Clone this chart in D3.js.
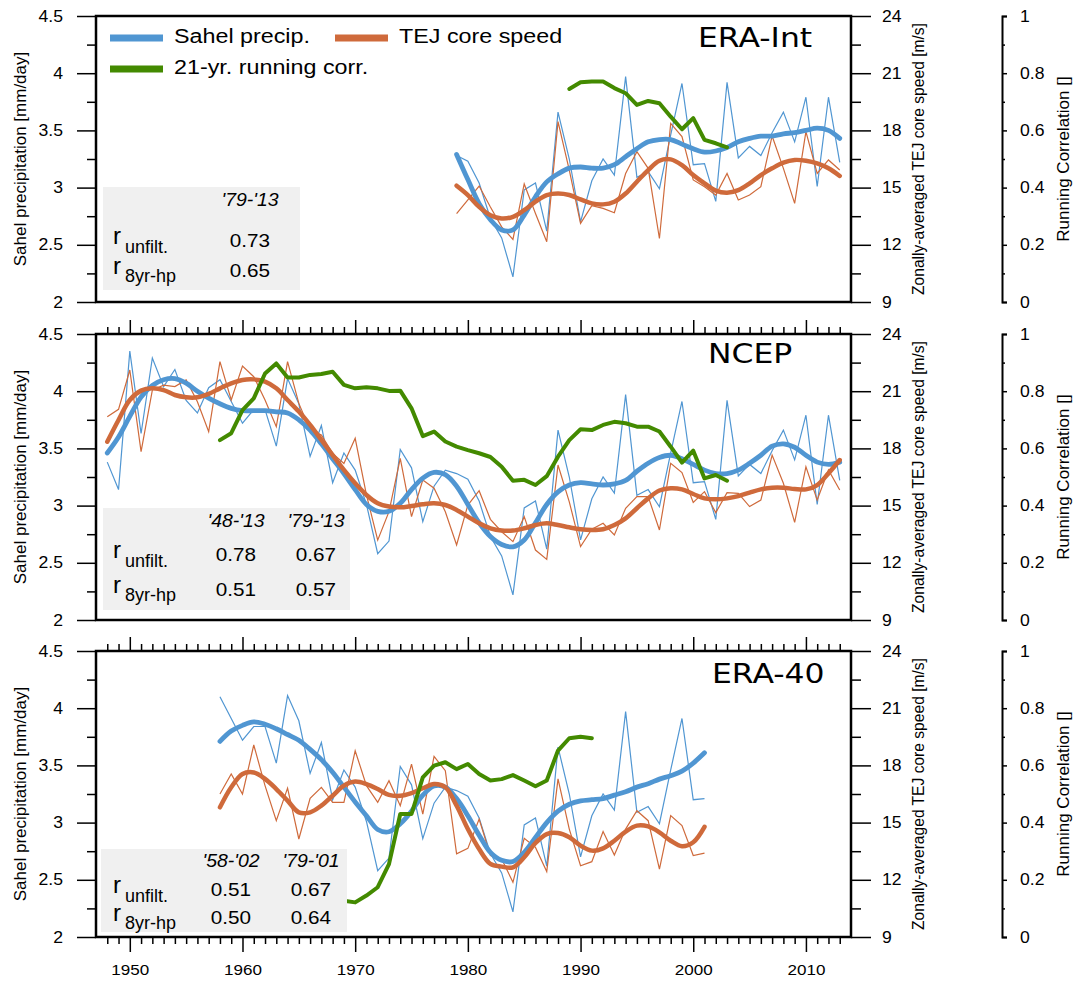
<!DOCTYPE html>
<html><head><meta charset="utf-8">
<script src="https://cdn.jsdelivr.net/npm/d3@7"></script>
<style>body{margin:0;background:#fff}svg{display:block}</style>
</head><body>
<svg id="c" width="1080" height="981"></svg>
<script>
// ---------------- DATA ----------------
const precipStart = 1948;
const precipRaw = [3.38,3.14,4.35,3.63,4.29,4.04,4.19,3.92,3.81,4.03,
 4.10,3.91,3.72,3.84,3.84,3.52,4.11,3.89,3.43,3.70,
 3.20,3.46,3.31,3.01,2.58,2.69,3.49,3.33,2.86,3.17,
 3.31,3.28,3.23,3.04,2.73,2.56,2.22,2.98,3.04,2.62,
 3.66,3.25,2.70,3.06,3.25,3.11,3.97,3.09,3.14,2.99,
 3.46,3.91,3.20,3.21,2.88,3.92,3.26,3.36,3.28,3.48,
 3.66,3.40,3.79,3.01,3.79,3.22];

// ERA-Int (1979-2013)
const eraIntPrecipSmooth = [3.29,3.07,2.86,2.72,2.63,2.63,2.76,2.92,3.05,3.12,3.17,3.18,3.17,3.17,3.20,3.27,3.34,3.40,3.42,3.42,3.38,3.34,3.31,3.32,3.35,3.40,3.43,3.45,3.45,3.47,3.48,3.50,3.52,3.50,3.43];
const eraIntTejRaw = [13.64,14.36,15.08,13.98,12.94,12.28,15.19,13.64,12.16,18.46,15.92,13.12,14.05,13.91,13.68,15.74,16.88,16.01,12.33,18.37,17.68,15.40,15.05,14.61,15.74,14.35,14.61,15.05,17.71,16.01,14.17,17.94,15.74,16.45,15.92];
const eraIntTejSmooth = [15.10,14.61,13.99,13.55,13.38,13.47,13.82,14.26,14.61,14.69,14.61,14.38,14.17,14.12,14.26,14.69,15.31,15.92,16.41,16.48,16.18,15.66,15.22,14.84,14.73,14.87,15.22,15.66,16.01,16.31,16.45,16.41,16.27,16.01,15.61];
const eraIntCorr = [0.745,0.768,0.771,0.771,0.748,0.730,0.689,0.703,0.695,0.648,0.604,0.643,0.567,0.555,0.541]; // 1989-2003

// NCEP (1948-2013)
const ncepPrecipSmooth = [3.46,3.60,3.78,3.95,4.05,4.10,4.11,4.07,4.00,3.94,
 3.89,3.85,3.83,3.83,3.83,3.82,3.81,3.75,3.66,3.54,
 3.41,3.28,3.14,3.01,2.95,2.95,3.02,3.14,3.24,3.29,
 3.27,3.17,3.01,2.85,2.73,2.66,2.64,2.70,2.85,3.01,
 3.12,3.18,3.20,3.19,3.18,3.19,3.22,3.30,3.37,3.42,
 3.44,3.41,3.36,3.31,3.28,3.28,3.31,3.37,3.44,3.52,
 3.54,3.51,3.44,3.38,3.36,3.38];
const ncepTejRaw = [19.66,20.05,22.11,17.83,21.06,21.32,21.24,21.59,20.45,18.88,
 22.55,20.54,22.32,21.76,20.54,19.14,22.55,20.36,18.97,18.70,
 17.74,17.21,18.53,15.56,13.19,14.68,17.48,14.42,16.34,15.91,
 14.68,12.94,15.03,15.78,14.28,13.63,13.11,14.42,12.67,12.18,
 17.13,15.20,12.85,13.76,14.07,13.46,14.86,15.47,15.47,13.72,
 17.22,16.73,15.16,15.73,14.63,15.68,15.64,14.95,15.29,17.65,
 16.17,14.12,17.04,15.29,16.87,15.82];
const ncepTejSmooth = [18.35,19.49,20.54,21.03,21.15,21.06,20.80,20.68,20.68,20.86,
 21.15,21.41,21.59,21.62,21.50,21.15,20.54,19.93,19.23,18.44,
 17.65,16.87,16.17,15.56,15.12,14.95,14.91,14.98,15.07,15.12,
 15.03,14.77,14.42,14.07,13.81,13.69,13.69,13.81,13.98,14.07,
 13.98,13.86,13.76,13.72,13.76,13.98,14.33,14.86,15.38,15.79,
 15.91,15.85,15.61,15.38,15.33,15.38,15.50,15.68,15.85,15.94,
 15.94,15.87,15.85,16.08,16.69,17.39];
const ncepCorr = [0.629,0.653,0.734,0.775,0.862,0.897,0.848,0.848,0.857,0.860,
 0.868,0.822,0.810,0.814,0.810,0.801,0.802,0.740,0.643,0.659,
 0.624,0.606,0.594,0.583,0.570,0.536,0.487,0.490,0.472,0.503,
 0.571,0.629,0.667,0.664,0.682,0.693,0.688,0.676,0.676,0.659,
 0.606,0.550,0.592,0.495,0.507,0.487]; // 1958-2003

// ERA-40 (1958-2001)
const era40PrecipSmooth = [3.71,3.80,3.85,3.88,3.86,3.82,3.77,3.72,3.64,3.55,
 3.44,3.31,3.18,3.06,2.94,2.92,2.99,3.10,3.24,3.32,
 3.31,3.21,3.06,2.89,2.74,2.67,2.66,2.74,2.87,3.00,
 3.10,3.16,3.19,3.20,3.21,3.24,3.27,3.31,3.34,3.38,
 3.41,3.45,3.52,3.61];
const era40TejRaw = [16.50,17.55,16.50,19.07,16.94,15.10,16.81,14.14,16.27,16.85,
 16.06,16.06,18.77,16.94,16.06,17.20,15.89,18.07,15.45,18.47,
 17.72,13.36,13.65,15.19,13.27,13.09,11.87,14.18,13.70,12.43,
 17.29,14.66,12.74,12.95,14.53,13.30,14.66,15.62,15.10,12.56,
 15.37,14.84,13.27,13.40];
const era40TejSmooth = [15.80,16.85,17.55,17.63,17.29,16.76,16.15,15.54,15.54,15.89,
 16.41,16.94,17.15,17.02,16.76,16.45,16.41,16.55,16.80,17.02,
 16.85,15.89,14.66,13.61,12.83,12.69,12.65,13.18,13.93,14.40,
 14.45,14.23,13.79,13.53,13.65,14.05,14.53,14.84,14.80,14.49,
 14.05,13.76,13.97,14.78];
const era40Corr = [0.127,0.121,0.145,0.174,0.255,0.430,0.430,0.558,0.599,0.611,
 0.587,0.605,0.570,0.547,0.552,0.566,0.547,0.527,0.547,0.652,
 0.695,0.700,0.695]; // 1969-1991

// correlation tables
const eraIntPeriods = ["'79-'13"], eraIntUnfilt = ["0.73"], eraIntHp = ["0.65"];
const ncepPeriods = ["'48-'13","'79-'13"], ncepUnfilt = ["0.78","0.67"], ncepHp = ["0.51","0.57"];
const era40Periods = ["'58-'02","'79-'01"], era40Unfilt = ["0.51","0.67"], era40Hp = ["0.50","0.64"];

// ticks
const precipMajor = [2,2.5,3,3.5,4,4.5], precipMinor = [2.25,2.75,3.25,3.75,4.25];
const tejMajor = [9,12,15,18,21,24], tejMinor = [10.5,13.5,16.5,19.5,22.5];
const corrMajor = [0,0.2,0.4,0.6,0.8,1], corrMinor = [0.1,0.3,0.5,0.7,0.9];
const yearMajor = [1950,1960,1970,1980,1990,2000,2010];
const yearMinor = [1948,1949,1951,1952,1953,1954,1955,1956,1957,1958,1959,1961,1962,1963,1964,1965,1966,1967,1968,1969,1971,1972,1973,1974,1975,1976,1977,1978,1979,1981,1982,1983,1984,1985,1986,1987,1988,1989,1991,1992,1993,1994,1995,1996,1997,1998,1999,2001,2002,2003,2004,2005,2006,2007,2008,2009,2011,2012,2013];

// ---------------- DRAW ----------------
const BLUE="#5096d2", ORANGE="#cf6a3b", GREEN="#438a00";
const SANS="'Liberation Sans', Arial, Helvetica, sans-serif";
const svg=d3.select("#c");
const x=d3.scaleLinear().domain([1947,2014]).range([96,851]);
const PH=286;

function stretch(sel,sx){
  sel.each(function(){const t=d3.select(this);const xx=+t.attr("x")||0;
    t.attr("transform",`translate(${xx},0) scale(${sx},1) translate(${-xx},0)`);});
}
function label(g,x0,y0,str,o={}){
  const t=g.append("text").attr("transform",`translate(${x0},${y0}) scale(${o.sx||1.1},1)`)
    .attr("text-anchor",o.anchor||"start").attr("font-family",o.family||SANS)
    .attr("font-size",o.size||16).attr("font-style",o.style||"normal").attr("fill","#000").text(str);
  return t;
}

const panels=[
 {title:"ERA-Int",titleX:698,titleDy:31,top:16,prS:1979,prE:2013,prSmooth:eraIntPrecipSmooth,
  tejS:1979,tejRaw:eraIntTejRaw,tejSmooth:eraIntTejSmooth,corrS:1989,corr:eraIntCorr,
  periods:eraIntPeriods,unfilt:eraIntUnfilt,hp:eraIntHp,
  box:[103,171,197,103],hdr:190,r1:231,r2:261,cols:[250],topTicks:false,bottomTicks:false},
 {title:"NCEP",titleX:708,titleDy:29,top:334,prS:1948,prE:2013,prSmooth:ncepPrecipSmooth,
  tejS:1948,tejRaw:ncepTejRaw,tejSmooth:ncepTejSmooth,corrS:1958,corr:ncepCorr,
  periods:ncepPeriods,unfilt:ncepUnfilt,hp:ncepHp,
  box:[103,174,247,102],hdr:193,r1:227,r2:262,cols:[236,316],topTicks:true,bottomTicks:false},
 {title:"ERA-40",titleX:712,titleDy:32,top:651,prS:1958,prE:2001,prSmooth:era40PrecipSmooth,
  tejS:1958,tejRaw:era40TejRaw,tejSmooth:era40TejSmooth,corrS:1969,corr:era40Corr,
  periods:era40Periods,unfilt:era40Unfilt,hp:era40Hp,
  box:[101,198,246,83],hdr:216,r1:245,r2:273,cols:[231,311],topTicks:true,bottomTicks:true}
];

function styleAxis(g,sw){
  g.selectAll("line").attr("stroke","#000").attr("stroke-width",sw||1.5);
  g.selectAll("path.domain").attr("stroke","#000").attr("stroke-width",2);
  g.selectAll("text").attr("font-family",SANS).attr("font-size",16).attr("fill","#000");
}

panels.forEach((p,pi)=>{
  const top=p.top, bot=top+PH;
  const yP=d3.scaleLinear().domain([2,4.5]).range([bot,top]);
  const yT=d3.scaleLinear().domain([9,24]).range([bot,top]);
  const yC=d3.scaleLinear().domain([0,1]).range([bot,top]);
  const g=svg.append("g");
  const mk=(start,yS,curve)=>d3.line().x((d,i)=>x(start+i)).y(d=>yS(d)).curve(curve);

  const prRaw=precipRaw.slice(p.prS-precipStart,p.prE-precipStart+1);
  g.append("path").attr("d",mk(p.prS,yP,d3.curveLinear)(prRaw)).attr("fill","none").attr("stroke",BLUE).attr("stroke-width",1.2);
  g.append("path").attr("d",mk(p.tejS,yT,d3.curveLinear)(p.tejRaw)).attr("fill","none").attr("stroke",ORANGE).attr("stroke-width",1.2);
  g.append("path").attr("d",mk(p.prS,yP,d3.curveCatmullRom)(p.prSmooth)).attr("fill","none").attr("stroke",BLUE).attr("stroke-width",4.8).attr("stroke-linecap","round");
  g.append("path").attr("d",mk(p.tejS,yT,d3.curveCatmullRom)(p.tejSmooth)).attr("fill","none").attr("stroke",ORANGE).attr("stroke-width",4.5).attr("stroke-linecap","round");
  g.append("path").attr("d",mk(p.corrS,yC,d3.curveLinear)(p.corr)).attr("fill","none").attr("stroke",GREEN).attr("stroke-width",4).attr("stroke-linejoin","round").attr("stroke-linecap","round");

  // stats box
  const [bx,by,bw,bh]=p.box;
  g.append("rect").attr("x",bx).attr("y",top+by).attr("width",bw).attr("height",bh).attr("fill","#f0f0f0");
  p.periods.forEach((s,i)=>label(g,p.cols[i],top+p.hdr,s,{anchor:"middle",style:"italic",size:18,sx:1.08}));
  p.unfilt.forEach((s,i)=>label(g,p.cols[i],top+p.r1,s,{anchor:"middle",size:18,sx:1.15}));
  p.hp.forEach((s,i)=>label(g,p.cols[i],top+p.r2,s,{anchor:"middle",size:18,sx:1.15}));
  label(g,113,top+p.r1-3,"r",{size:23,sx:1.05});
  label(g,125,top+p.r1+6,"unfilt.",{size:18,sx:1.0});
  label(g,113,top+p.r2-3,"r",{size:23,sx:1.05});
  label(g,125,top+p.r2+5,"8yr-hp",{size:18,sx:1.0});

  // title
  label(g,p.titleX,top+p.titleDy,p.title,{size:26,family:"'DejaVu Sans', sans-serif",sx:1.21});

  // left axis
  const la=g.append("g").attr("transform",`translate(96,0)`);
  const laMaj=la.append("g").call(d3.axisLeft(yP).tickValues(precipMajor).tickSize(19).tickPadding(14).tickFormat(d=>String(d))).call(styleAxis);
  const laMin=la.append("g").call(d3.axisLeft(yP).tickValues(precipMinor).tickSize(9).tickFormat("")).call(styleAxis);
  laMaj.select("path.domain").remove(); laMin.select("path.domain").remove();
  stretch(la.selectAll("text"),1.1);
  // right TEJ axis
  const ra=g.append("g").attr("transform",`translate(851,0)`);
  const raMaj=ra.append("g").call(d3.axisRight(yT).tickValues(tejMajor).tickSize(20).tickPadding(11).tickFormat(d=>String(d))).call(styleAxis);
  const raMin=ra.append("g").call(d3.axisRight(yT).tickValues(tejMinor).tickSize(10).tickFormat("")).call(styleAxis);
  raMaj.select("path.domain").remove(); raMin.select("path.domain").remove();
  stretch(ra.selectAll("text"),1.1);
  // correlation axis (keeps its bracket-shaped domain)
  const ca=g.append("g").attr("transform",`translate(1002,0)`);
  ca.append("g").call(d3.axisRight(yC).tickValues(corrMajor).tickSize(5).tickSizeOuter(5).tickPadding(13).tickFormat(d=>String(d))).call(styleAxis);
  const caMin=ca.append("g").call(d3.axisRight(yC).tickValues(corrMinor).tickSize(3).tickSizeOuter(0).tickFormat("")).call(styleAxis);
  caMin.select("path.domain").remove();
  stretch(ca.selectAll("text"),1.1);

  // axis titles
  g.append("text").attr("transform",`translate(26,${top+PH/2}) rotate(-90)`).attr("text-anchor","middle")
    .attr("font-family",SANS).attr("font-size",17).text("Sahel precipitation [mm/day]");
  g.append("text").attr("transform",`translate(924,${top+PH/2}) rotate(-90)`).attr("text-anchor","middle")
    .attr("font-family",SANS).attr("font-size",15.6).text("Zonally-averaged TEJ core speed [m/s]");
  g.append("text").attr("transform",`translate(1069,${top+PH/2}) rotate(-90)`).attr("text-anchor","middle")
    .attr("font-family",SANS).attr("font-size",17).text("Running Correlation []");

  // x ticks
  if(p.topTicks){
    const ta=g.append("g").attr("transform",`translate(0,${top})`);
    const a1=ta.append("g").call(d3.axisTop(x).tickValues(yearMajor).tickSize(14).tickFormat("")).call(styleAxis);
    const a2=ta.append("g").call(d3.axisTop(x).tickValues(yearMinor).tickSize(7).tickFormat("")).call(styleAxis);
    a1.select("path.domain").remove(); a2.select("path.domain").remove();
  }
  if(p.bottomTicks){
    const ba=g.append("g").attr("transform",`translate(0,${bot})`);
    const b1=ba.append("g").call(d3.axisBottom(x).tickValues(yearMajor).tickSize(15).tickFormat(d=>String(d))).call(styleAxis);
    const b2=ba.append("g").call(d3.axisBottom(x).tickValues(yearMinor).tickSize(7).tickFormat("")).call(styleAxis);
    b1.select("path.domain").remove(); b2.select("path.domain").remove();
    ba.selectAll("text").attr("y",38).attr("dy",0).attr("font-size",15.5);
    stretch(ba.selectAll("text"),1.1);
  }

  // frame
  g.append("rect").attr("x",96).attr("y",top).attr("width",755).attr("height",PH).attr("fill","none").attr("stroke","#000").attr("stroke-width",2.5);
});

// legend (top panel)
const lg=svg.append("g");
const legendItems=[{c:BLUE,t:"Sahel precip.",x:110,y:38},{c:ORANGE,t:"TEJ core speed",x:335,y:38},{c:GREEN,t:"21-yr. running corr.",x:110,y:69}];
legendItems.forEach(d=>{
  lg.append("line").attr("x1",d.x).attr("x2",d.x+53).attr("y1",d.y).attr("y2",d.y).attr("stroke",d.c).attr("stroke-width",7);
  label(lg,d.x+64,d.y+5,d.t,{size:21,sx:1.11});
});
</script>
</body></html>
